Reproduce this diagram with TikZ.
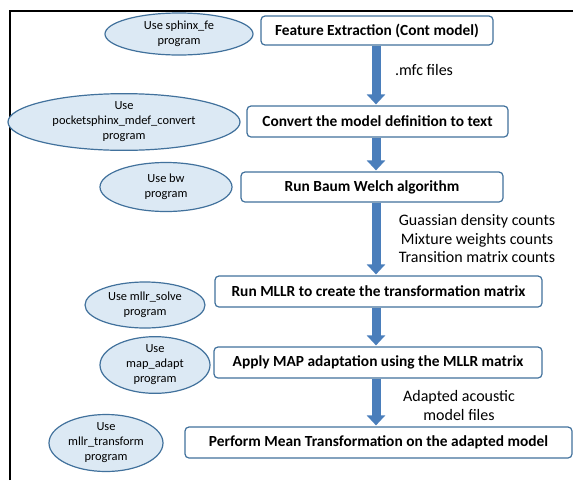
\documentclass[tikz,border=0pt]{standalone}
\usepackage{fontspec}
\setmainfont{Carlito}
\usetikzlibrary{shapes.geometric,arrows.meta}

\definecolor{boxline}{RGB}{65,113,156}
\definecolor{ellfill}{RGB}{220,233,244}
\definecolor{flowblue}{RGB}{74,126,187}

\tikzset{
    step box/.style={draw=boxline,line width=1.2pt,rounded corners=4pt,fill=white,inner sep=0pt,
        font=\bfseries\fontsize{15.4}{18}\selectfont},
    prog node/.style={ellipse,draw=boxline,line width=1.2pt,fill=ellfill,inner sep=0pt,align=center,
        font=\fontsize{12.4}{15}\selectfont},
    flow arrow/.style={draw=flowblue,line width=9pt,-{Triangle[width=18pt,length=10pt]},shorten >=1pt},
    note/.style={align=center,font=\fontsize{16}{18.5}\selectfont}
    }

\begin{document}
\begin{tikzpicture}[x=1pt,y=1pt]
    \useasboundingbox (0,0) rectangle (573,-480);
    % Outer frame
    \draw[line width=1.8pt] (10,-480) -- (10,-11) -- (573,-11);
    % The steps
    \node(b1)[step box,minimum width=232,minimum height=29] at (377,-30.5) {Feature Extraction (Cont model)};
    \node(b2)[step box,minimum width=261,minimum height=31] at (377.5,-121.5) {Convert the model definition to text};
    \node(b3)[step box,minimum width=262,minimum height=30] at (372,-187) {Run Baum Welch algorithm};
    \node(b4)[step box,minimum width=327,minimum height=31] at (378.5,-291.5) {Run MLLR to create the transformation matrix};
    \node(b5)[step box,minimum width=328,minimum height=31] at (378,-362.5) {Apply MAP adaptation using the MLLR matrix};
    \node(b6)[step box,minimum width=387,minimum height=31] at (378.5,-442.5) {Perform Mean Transformation on the adapted model};
    % The programs
    \node(p1)[prog node,minimum width=148,minimum height=42] at (179,-34) {Use sphinx\_fe\\program};
    \node(p2)[prog node,minimum width=232,minimum height=50] at (124,-122) {Use\\pocketsphinx\_mdef\_convert\\program};
    \node(p3)[prog node,minimum width=132,minimum height=49] at (166,-187) {Use bw\\program};
    \node(p4)[prog node,minimum width=120,minimum height=46] at (145,-305) {Use mllr\_solve\\program};
    \node(p5)[prog node,minimum width=110,minimum height=46] at (155,-365) {Use\\map\_adapt\\program};
    \node(p6)[prog node,minimum width=114,minimum height=57] at (106,-443) {Use\\mllr\_transform\\program};
    % The flow
    \coordinate (axis) at (376,0);
    \draw[flow arrow] (axis |- b1.south) -- (axis |- b2.north);
    \draw[flow arrow] (axis |- b2.south) -- (axis |- b3.north);
    \draw[flow arrow] (axis |- b3.south) -- (axis |- b4.north);
    \draw[flow arrow] (axis |- b4.south) -- (axis |- b5.north);
    \draw[flow arrow] (axis |- b5.south) -- (axis |- b6.north);
    % What is passed on
    \node(n1)[note] at (424,-70) {.mfc files};
    \node(n3)[note] at (477,-238.5) {Guassian density counts\\Mixture weights counts\\Transition matrix counts};
    \node(n5)[note] at (459,-405.5) {Adapted acoustic\\model files};
\end{tikzpicture}
\end{document}
